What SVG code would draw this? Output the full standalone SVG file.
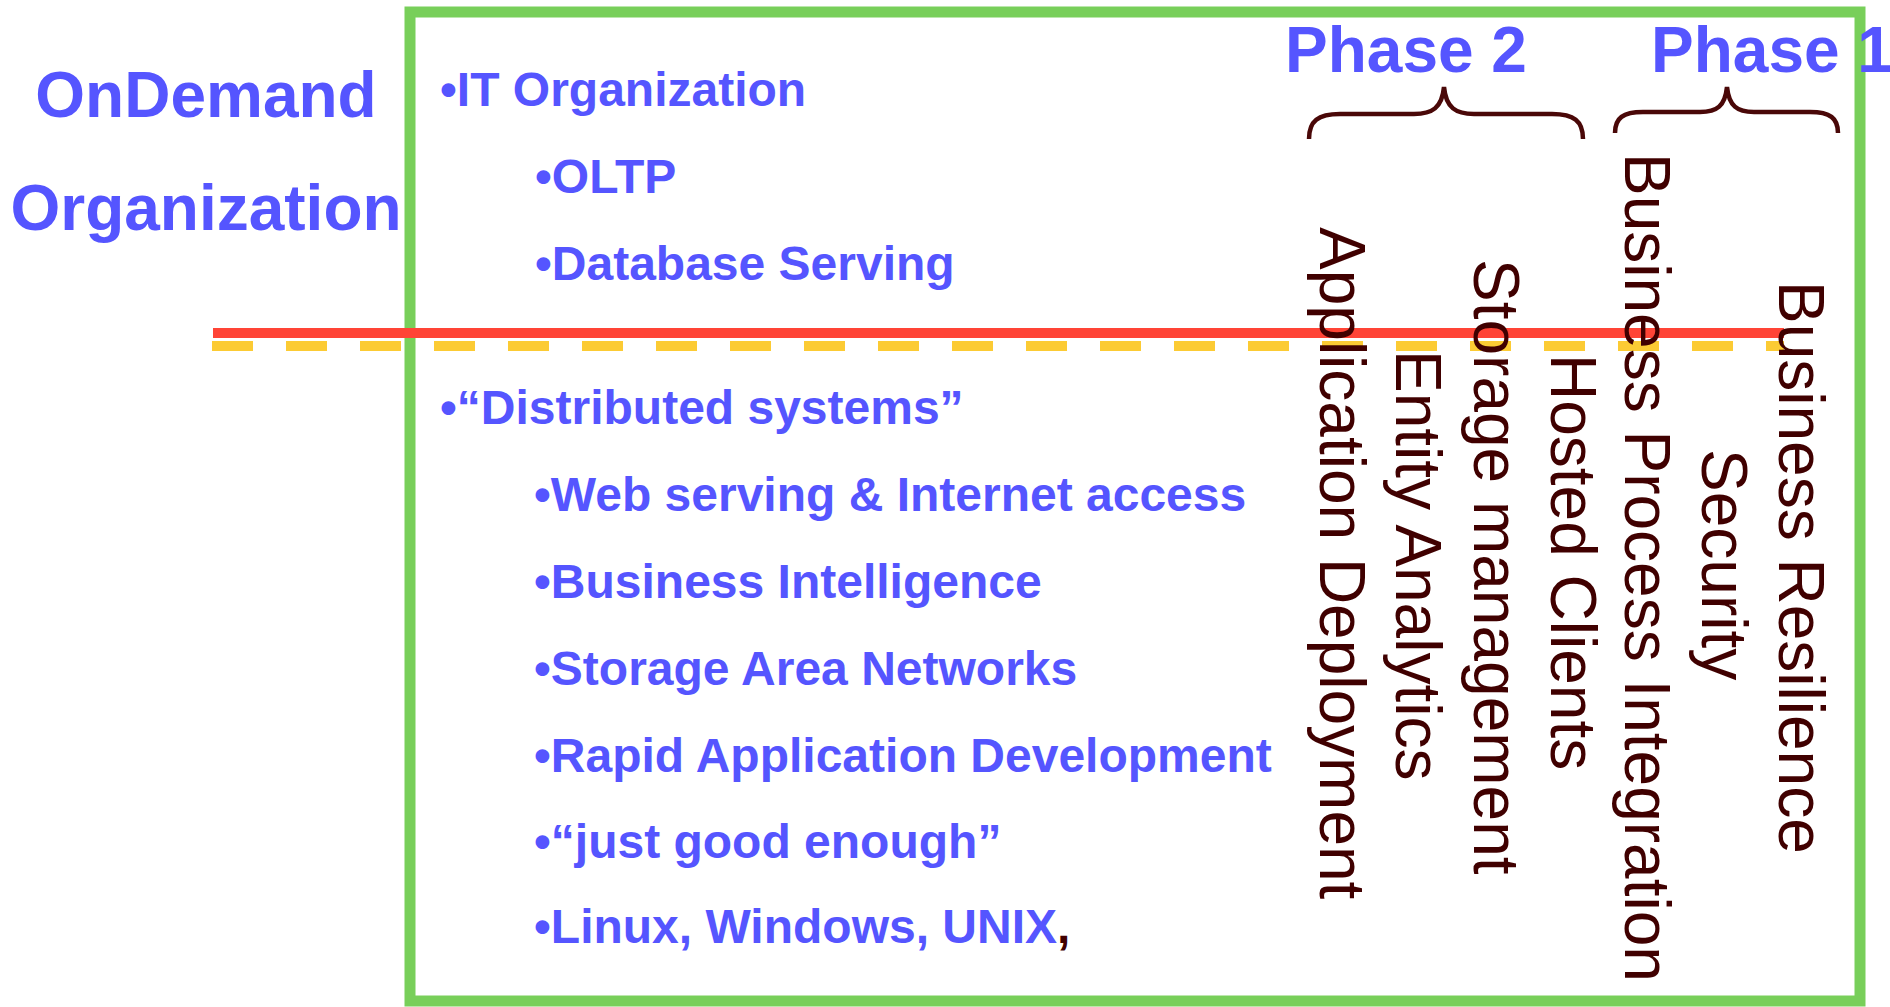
<svg xmlns="http://www.w3.org/2000/svg" width="1890" height="1007" viewBox="0 0 1890 1007">
  <style>
    .title { font-family: "Liberation Sans", Arial, sans-serif; font-weight: bold; font-size: 64px; fill: #5555FF; }
    .item { font-family: "Liberation Sans", Arial, sans-serif; font-weight: bold; font-size: 48px; fill: #5555FF; }
    .vert { font-family: "Liberation Sans", Arial, sans-serif; font-size: 64px; fill: #400000; }
    .brace { fill: none; stroke: #4A0808; stroke-width: 4.5; stroke-linecap: butt; }
    .dark { fill: #400000; }
  </style>
  <rect width="1890" height="1007" fill="#FFFFFF"/>

  <!-- frame -->
  <g id="frame">
    <rect x="410" y="12" width="1450" height="989" fill="none" stroke="#78CF5A" stroke-width="11"/>
  </g>

  <!-- divider lines -->
  <g id="connectors">
    <line x1="213" y1="333" x2="1784" y2="333" stroke="#FF4436" stroke-width="10"/>
    <line x1="212" y1="346" x2="1784" y2="346" stroke="#FCCB34" stroke-width="10" stroke-dasharray="41 33"/>
  </g>

  <!-- side title -->
  <g id="title">
    <text class="title" x="206" y="117" text-anchor="middle">OnDemand</text>
    <text class="title" x="206" y="230" text-anchor="middle">Organization</text>
  </g>

  <!-- upper list -->
  <g id="it-organization">
    <text class="item" x="440" y="106">•IT Organization</text>
    <text class="item" x="535" y="193">•OLTP</text>
    <text class="item" x="535" y="280">•Database Serving</text>
  </g>

  <!-- lower list -->
  <g id="distributed-systems">
    <text class="item" x="440" y="424">•“Distributed systems”</text>
    <text class="item" x="534" y="511">•Web serving &amp; Internet access</text>
    <text class="item" x="534" y="598">•Business Intelligence</text>
    <text class="item" x="534" y="685">•Storage Area Networks</text>
    <text class="item" x="534" y="772">•Rapid Application Development</text>
    <text class="item" x="534" y="858">•“just good enough”</text>
    <text class="item" x="534" y="943">•Linux, Windows, UNIX<tspan class="dark">,</tspan></text>
  </g>

  <!-- phase headings and braces -->
  <g id="phase-2">
    <text class="title" x="1285" y="72">Phase 2</text>
    <path class="brace" d="M1309,139 C1309,121 1318,114 1340,114 L1414,114 C1432,114 1442,108 1444,87 C1446,108 1456,114 1474,114 L1552,114 C1574,114 1583,121 1583,139"/>
  </g>
  <g id="phase-1">
    <text class="title" x="1651" y="72">Phase 1</text>
    <path class="brace" d="M1615,133 C1615,118 1623,112 1643,112 L1700,112 C1717,112 1725,106 1727,87 C1729,106 1737,112 1754,112 L1810,112 C1830,112 1838,118 1838,133"/>
  </g>

  <!-- vertical capability labels -->
  <g id="capabilities">
    <text class="vert" transform="translate(1320,227) rotate(90)">Application Deployment</text>
    <text class="vert" transform="translate(1396,350) rotate(90)">Entity Analytics</text>
    <text class="vert" transform="translate(1474,259) rotate(90)">Storage management</text>
    <text class="vert" transform="translate(1551,354) rotate(90)">Hosted Clients</text>
    <text class="vert" transform="translate(1625,153) rotate(90)">Business Process Integration</text>
    <text class="vert" transform="translate(1702,449) rotate(90)">Security</text>
    <text class="vert" transform="translate(1779,281) rotate(90)">Business Resilience</text>
  </g>
</svg>
